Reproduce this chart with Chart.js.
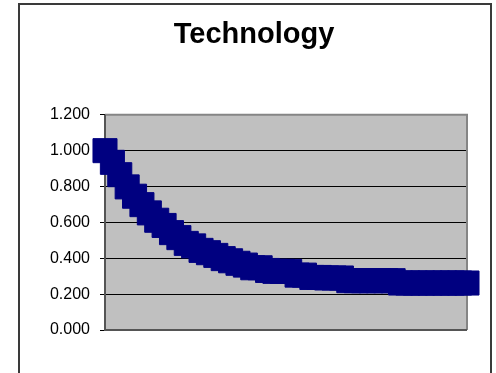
<!DOCTYPE html>
<html>
<head>
<meta charset="utf-8">
<script src="https://cdn.jsdelivr.net/npm/chart.js@4"></script>
<style>
  html, body { margin: 0; padding: 0; background: #fff; }
  #wrap { position: relative; width: 496px; height: 373px; overflow: hidden; }
  #frame { position: absolute; left: 18px; top: 3px; width: 470px; height: 420px;
           border: 2px solid #3a3a3a; pointer-events: none; }
  canvas { position: absolute; left: 0; top: 0; }
</style>
</head>
<body>
<div id="wrap">
  <canvas id="chart" width="508" height="373"></canvas>
  <div id="frame"></div>
</div>
<script>
// chart data
const chartTitle = "Technology";
const categories = [1, 2, 3, 4, 5, 6, 7, 8, 9, 10,
  11, 12, 13, 14, 15, 16, 17, 18, 19, 20,
  21, 22, 23, 24, 25, 26, 27, 28, 29, 30,
  31, 32, 33, 34, 35, 36, 37, 38, 39, 40,
  41, 42, 43, 44, 45, 46, 47, 48, 49, 50];
const technology = [1.000, 0.935, 0.866, 0.798, 0.746, 0.699, 0.653, 0.612, 0.583, 0.543,
  0.515, 0.483, 0.469, 0.444, 0.431, 0.416, 0.398, 0.386, 0.372, 0.362,
  0.347, 0.347, 0.332, 0.327, 0.327, 0.327, 0.306, 0.306, 0.293, 0.293,
  0.290, 0.290, 0.290, 0.275, 0.275, 0.275, 0.275, 0.275, 0.275, 0.275,
  0.262, 0.262, 0.262, 0.262, 0.262, 0.262, 0.262, 0.262, 0.262, 0.262];
const yMin = 0, yMax = 1.2, yStep = 0.2;

// grey plot area + its border, Excel style
const plotArea = {
  id: 'plotArea',
  beforeDraw(chart) {
    const a = chart.chartArea, ctx = chart.ctx;
    ctx.save();
    ctx.fillStyle = '#c0c0c0';
    ctx.fillRect(a.left, a.top, a.right - a.left, a.bottom - a.top);
    ctx.restore();
  },
  beforeDatasetsDraw(chart) {
    const a = chart.chartArea, ctx = chart.ctx;
    ctx.save();
    ctx.lineWidth = 2;
    ctx.strokeStyle = '#858585';
    ctx.beginPath();
    ctx.moveTo(a.left, a.top);
    ctx.lineTo(a.right, a.top);
    ctx.lineTo(a.right, a.bottom);
    ctx.stroke();
    ctx.strokeStyle = '#555';
    ctx.beginPath();
    ctx.moveTo(a.left, a.top);
    ctx.lineTo(a.left, a.bottom);
    ctx.lineTo(a.right, a.bottom);
    ctx.stroke();
    ctx.restore();
  }
};

new Chart(document.getElementById('chart'), {
  type: 'line',
  data: {
    labels: categories,
    datasets: [{
      label: chartTitle,
      data: technology,
      yAxisID: 'y',
      borderColor: '#000080',
      backgroundColor: '#000080',
      borderWidth: 2,
      pointStyle: 'rect',
      pointRadius: 17,
      pointBorderWidth: 1,
      pointBorderColor: '#000080',
      pointBackgroundColor: '#000080',
      clip: false
    }]
  },
  options: {
    responsive: false,
    animation: false,
    layout: { padding: { left: 0, right: 0, top: 0, bottom: 43 } },
    plugins: {
      legend: { display: false },
      tooltip: { enabled: false },
      title: {
        display: true,
        text: chartTitle,
        color: '#000',
        font: { family: 'Liberation Sans, Arial, sans-serif', size: 29, weight: 'bold' },
        padding: { top: 18, bottom: 62 }
      }
    },
    scales: {
      x: {
        display: false,
        offset: false
      },
      y: {
        min: yMin,
        max: yMax,
        afterFit(scale) { scale.width = 105; },
        border: { display: false },
        grid: {
          color: ctx => (ctx.tick && (ctx.tick.value === yMin || Math.abs(ctx.tick.value - yMax) < 1e-6)) ? 'rgba(0,0,0,0)' : '#000',
          tickColor: '#000',
          tickLength: 5,
          lineWidth: 1
        },
        ticks: {
          stepSize: yStep,
          padding: 10,
          color: '#000',
          font: { family: 'Liberation Sans, Arial, sans-serif', size: 16 },
          callback: v => Number(v).toFixed(3)
        }
      },
      // empty spacer on the right so the title centres on the frame, not the plot
      yRight: {
        position: 'right',
        min: yMin,
        max: yMax,
        afterFit(scale) { scale.width = 41; },
        border: { display: false },
        grid: { display: false, drawTicks: false },
        ticks: { display: false }
      }
    }
  },
  plugins: [plotArea]
});
</script>
</body>
</html>
